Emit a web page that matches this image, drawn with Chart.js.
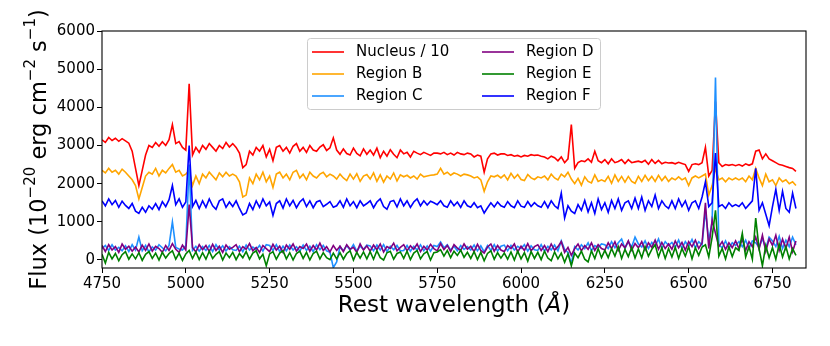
<!DOCTYPE html>
<html>
<head>
<meta charset="utf-8">
<script src="https://cdn.jsdelivr.net/npm/chart.js@4.4.1/dist/chart.umd.min.js"></script>
<style>
  body { margin: 0; background: #fff; }
  canvas { display: block; }
</style>
</head>
<body>
<canvas id="spec" width="830" height="346"></canvas>
<script>
// rest wavelength grid (Angstrom)
var wavelength = [
  4750, 4760, 4770, 4780, 4790, 4800, 4810, 4820, 4830, 4840,
  4850, 4860, 4870, 4880, 4890, 4900, 4910, 4920, 4930, 4940,
  4950, 4960, 4970, 4980, 4990, 5000, 5010, 5020, 5030, 5040,
  5050, 5060, 5070, 5080, 5090, 5100, 5110, 5120, 5130, 5140,
  5150, 5160, 5170, 5180, 5190, 5200, 5210, 5220, 5230, 5240,
  5250, 5260, 5270, 5280, 5290, 5300, 5310, 5320, 5330, 5340,
  5350, 5360, 5370, 5380, 5390, 5400, 5410, 5420, 5430, 5440,
  5450, 5460, 5470, 5480, 5490, 5500, 5510, 5520, 5530, 5540,
  5550, 5560, 5570, 5580, 5590, 5600, 5610, 5620, 5630, 5640,
  5650, 5660, 5670, 5680, 5690, 5700, 5710, 5720, 5730, 5740,
  5750, 5760, 5770, 5780, 5790, 5800, 5810, 5820, 5830, 5840,
  5850, 5860, 5870, 5880, 5890, 5900, 5910, 5920, 5930, 5940,
  5950, 5960, 5970, 5980, 5990, 6000, 6010, 6020, 6030, 6040,
  6050, 6060, 6070, 6080, 6090, 6100, 6110, 6120, 6130, 6140,
  6150, 6160, 6170, 6180, 6190, 6200, 6210, 6220, 6230, 6240,
  6250, 6260, 6270, 6280, 6290, 6300, 6310, 6320, 6330, 6340,
  6350, 6360, 6370, 6380, 6390, 6400, 6410, 6420, 6430, 6440,
  6450, 6460, 6470, 6480, 6490, 6500, 6510, 6520, 6530, 6540,
  6550, 6560, 6570, 6580, 6590, 6600, 6610, 6620, 6630, 6640,
  6650, 6660, 6670, 6680, 6690, 6700, 6710, 6720, 6730, 6740,
  6750, 6760, 6770, 6780, 6790, 6800, 6810, 6820
];

var nucleus = [
  3150, 3080, 3210, 3130, 3190, 3110, 3180, 3120, 3060, 2850,
  2400, 1950, 2350, 2750, 3000, 2950, 3080, 2980, 3100, 3000,
  3150, 3550, 3050, 3100, 2950, 2880, 4620, 2750, 2950, 2820,
  3000, 2900, 3050, 2950, 2850, 3000, 2920, 3080, 2960, 3050,
  2950, 2800, 2420, 2500, 2850, 2750, 2950, 2850, 3000, 2700,
  2900, 2600, 2950, 3000, 2850, 2950, 2800, 2980, 3050, 2850,
  2950, 2820, 3000, 2880, 2850, 2960, 3020, 2870, 2940, 3200,
  2880, 2770, 2910, 2790, 2750, 2930, 2790, 2730, 2910, 2770,
  2880, 2750, 2930, 2680, 2850, 2720, 2890, 2770, 2680, 2880,
  2780, 2820, 2700, 2850, 2800, 2760, 2820, 2780, 2740, 2800,
  2800, 2780, 2820, 2760, 2800, 2750, 2820, 2780, 2760, 2800,
  2780, 2700, 2750, 2720, 2300, 2650, 2780, 2800, 2750, 2780,
  2780, 2740, 2760, 2720, 2740, 2700, 2740, 2720, 2760, 2740,
  2750, 2720, 2700, 2650, 2720, 2680, 2600, 2700, 2550, 2650,
  3550, 2400, 2550, 2600, 2580, 2650, 2560, 2850, 2600, 2550,
  2630, 2520, 2650, 2550, 2580, 2630, 2530, 2630, 2550, 2570,
  2590, 2560, 2610, 2510, 2630, 2530, 2610, 2520, 2560, 2540,
  2550, 2520, 2560, 2530, 2500, 2320, 2500, 2520, 2500, 2550,
  2950, 2200, 2350, 4150, 2550, 2450, 2500, 2480, 2500, 2470,
  2500, 2460, 2520, 2480, 2520, 2850, 2880, 2650, 2780, 2650,
  2600, 2550, 2500, 2480, 2450, 2420, 2400, 2320
];

var regionB = [
  2350, 2280, 2400, 2300, 2350, 2250, 2380, 2300, 2200, 2100,
  1950, 1600, 1900, 2200, 2300, 2250, 2400, 2200, 2350, 2280,
  2400, 2500, 2300, 2350, 2200, 2250, 2350, 1950, 2200, 2000,
  2250, 2150, 2300, 2200, 2100, 2280, 2180, 2300, 2200, 2250,
  2200, 2050, 1650, 1700, 2150, 2000, 2250, 2100, 2300, 2050,
  2200, 1900, 2250, 2300, 2150, 2250, 2100, 2300, 2350, 2150,
  2250, 2100, 2300, 2200, 2150, 2250, 2300, 2180, 2250, 2200,
  2120, 2250, 2150, 2080, 2250, 2120, 2260, 2060, 2200, 2240,
  2120, 2280, 2060, 2230, 2040, 2200, 2120, 2280, 2070, 2230,
  2180, 2220, 2150, 2200, 2120, 2250, 2180, 2200, 2220, 2230,
  2250, 2400, 2250, 2300, 2220, 2280, 2250, 2200, 2250, 2230,
  2200, 2150, 2180, 2100, 1800, 2050, 2200, 2180, 2220, 2150,
  2230, 2100, 2270, 2140, 2240, 2110, 2080, 2240, 2150, 2110,
  2180, 2150, 2200, 2100, 2250, 2150, 2100, 2250, 2180, 2300,
  2120, 2000, 2140, 1960, 2180, 2060, 2020, 2230, 2060, 2100,
  2060, 2190, 2010, 2230, 2060, 2190, 2040, 2190, 2060, 2010,
  2190, 2060, 2220, 2080, 2190, 2060, 2220, 2080, 2190, 2060,
  2150, 2100, 2180, 2100, 2150, 1950, 2150, 2200, 2150, 2200,
  2250, 1700, 1950, 2400, 2100, 2150, 2050, 2150, 2100, 2150,
  2100, 2150, 2050, 2200, 2100, 2400, 2150, 1950, 2250, 2050,
  2100, 1950, 2150, 2050, 2100, 2000, 2050, 1950
];

var regionC = [
  300, 380, 250, 400, 260, 330, 240, 370, 220, 400,
  260, 600, 240, 380, 210, 340, 260, 400, 320, 240,
  380, 1000, 330, 290, 260, 380, 2500, 250, 360, 230,
  350, 250, 380, 220, 400, 260, 370, 240, 350, 270,
  250, 360, 220, 390, 260, 340, 270, 380, 230, 400,
  380, 250, 400, 220, 360, 240, 390, 260, 350, 230,
  390, 250, 360, 220, 400, 270, 380, 240, 200, -200,
  -50, 350, 240, 380, 260, 400, 230, 360, 280, 390,
  370, 240, 390, 260, 400, 220, 360, 270, 380, 240,
  250, 380, 230, 360, 260, 400, 240, 370, 230, 380,
  350, 470, 320, 400, 260, 360, 240, 380, 280, 350,
  260, 390, 240, 370, 210, 380, 250, 400, 230, 360,
  390, 240, 380, 260, 360, 300, 400, 230, 370, 270,
  250, 400, 230, 360, 260, 390, 240, 500, 280, 200,
  -100, 350, 260, 400, 300, 450, 240, 380, 330, 420,
  400, 300, 480, 320, 450, 550, 300, 480, 340, 600,
  420, 340, 500, 300, 460, 360, 550, 300, 480, 380,
  460, 330, 520, 300, 480, 360, 540, 320, 480, 400,
  1300, 500, 1000, 4780, 400, 320, 500, 300, 450, 380,
  480, 350, 520, 300, 500, 450, 330, 560, 300, 600,
  500, 350, 620, 300, 520, 350, 600, 400
];

var regionD = [
  380, 220, 400, 260, 350, 200, 420, 280, 360, 230,
  340, 210, 390, 250, 420, 230, 360, 300, 200, 380,
  250, 430, 280, 200, 390, 260, 1450, 330, 210, 400,
  270, 380, 220, 410, 250, 360, 200, 390, 280, 330,
  400, 220, 350, 280, 430, 240, 330, 200, 380, 300,
  220, 410, 260, 360, 200, 390, 280, 420, 230, 350,
  300, 420, 230, 380, 260, 440, 250, 350, 210, 380,
  250, 360, 220, 400, 280, 330, 200, 420, 260, 370,
  230, 390, 270, 420, 210, 350, 300, 440, 240, 330,
  400, 240, 370, 280, 420, 220, 360, 260, 410, 300,
  240, 430, 270, 380, 220, 400, 310, 250, 420, 280,
  360, 220, 410, 250, 180, 340, 420, 230, 380, 260,
  220, 380, 300, 420, 210, 360, 250, 430, 240, 350,
  400, 250, 380, 220, 420, 260, 350, 480, 200, 330,
  120, 300, 420, 240, 380, 280, 450, 250, 400, 300,
  260, 450, 300, 480, 250, 420, 320, 500, 260, 430,
  320, 480, 260, 450, 330, 520, 280, 460, 300, 420,
  280, 500, 320, 460, 260, 480, 350, 520, 300, 450,
  1500, 300, 1050, 700, 350, 480, 280, 450, 320, 500,
  300, 550, 250, 480, 350, 600, 280, 650, 220, 550,
  380, 650, 250, 550, 300, 600, 220, 500
];

var regionE = [
  150, -80, 200, 30, 170, -20, 140, 220, 20, 160,
  30, 190, -10, 150, 220, 40, 180, 0, 200, 50,
  170, 240, 20, 180, -10, 160, 250, 40, 210, 10,
  190, 20, 230, 40, 150, 220, 0, 180, 60, 200,
  10, 170, 60, 220, 20, 180, 240, 30, 150, -150,
  160, 220, 20, 180, 240, 30, 190, 0, 170, 230,
  40, 200, 0, 170, 230, 30, 190, 60, 10, 180,
  30, 190, 20, 170, 240, 0, 200, 50, 210, 30,
  220, 20, 240, 60, 0, 190, 230, 20, 170, 210,
  40, 230, 10, 180, 250, 30, 160, 220, 0, 190,
  210, 270, 100, 250, 60, 230, 120, 260, 70, 200,
  40, 220, 10, 200, -20, 170, 240, 20, 190, 50,
  180, 20, 210, 0, 230, 30, 190, -30, 220, 40,
  200, 10, 230, 50, -20, 210, 30, 180, -60, 160,
  -150, 180, 60, 230, 20, -50, 240, 40, 300, 60,
  250, 60, 300, 100, 350, 40, 280, 90, 330, 50,
  290, 60, 350, 100, 280, 400, 80, 320, 40, 300,
  80, 330, 40, 300, 100, 350, 30, 320, 120, 340,
  400, 80, 600, 1300, 100, 300, 30, 350, 90, 320,
  250, 700, 80, 350, 20, 1100, 300, -150, 380, 60,
  320, 20, 420, 80, 350, 30, 300, 120
];

var regionF = [
  1550, 1420, 1600, 1450, 1560, 1380, 1540, 1430, 1350, 1480,
  1280, 1220, 1380, 1250, 1420, 1330, 1480, 1320, 1530, 1400,
  1580, 1950, 1450, 1600, 1380, 1520, 3000, 1400, 1560, 1350,
  1550, 1380, 1600, 1420, 1330, 1550, 1600, 1380, 1520, 1400,
  1550, 1350, 1180, 1230, 1480, 1320, 1550, 1380, 1600, 1420,
  1520, 1170, 1480, 1550, 1360, 1600, 1420, 1560, 1370, 1520,
  1600, 1400, 1550, 1370, 1520, 1560, 1400, 1460, 1530, 1380,
  1420, 1550, 1380, 1600, 1420, 1530, 1370, 1550, 1420, 1480,
  1550, 1370, 1520, 1600, 1400, 1330, 1530, 1560, 1390, 1600,
  1420, 1550, 1380, 1520, 1600, 1420, 1550, 1440, 1540, 1500,
  1450, 1550, 1420, 1380, 1550, 1420, 1520, 1380, 1550, 1420,
  1380, 1500, 1370, 1420, 1230, 1370, 1500, 1390, 1520, 1420,
  1380, 1530, 1420, 1370, 1550, 1410, 1380, 1530, 1400, 1500,
  1420, 1380, 1530, 1370, 1550, 1420, 1350, 1750, 1100, 1420,
  1280, 1220, 1450, 1300, 1560, 1260, 1500, 1220, 1600, 1320,
  1500, 1250, 1560, 1350, 1600, 1300, 1500, 1550, 1350, 1620,
  1350, 1650, 1300, 1550, 1400, 1700, 1350, 1550, 1420, 1350,
  1550, 1350, 1600, 1400, 1550, 1300, 1500, 1550, 1350, 1650,
  2050, 1400, 1500, 2800, 1400, 1450, 1350, 1500, 1400, 1450,
  1400, 1500, 1350, 1450, 1550, 2400, 1300, 1500, 1200, 900,
  1400, 1850, 1300, 1800, 1350, 1250, 1750, 1350
];

var labels = ['Nucleus / 10', 'Region B', 'Region C', 'Region D', 'Region E', 'Region F'];
var colors = ['#ff0000', '#ffa500', '#1e90ff', '#800080', '#008000', '#0000ff'];
var series = [nucleus, regionB, regionC, regionD, regionE, regionF];

var xTicks = [4750, 5000, 5250, 5500, 5750, 6000, 6250, 6500, 6750];
var yTicks = [0, 1000, 2000, 3000, 4000, 5000, 6000];

var FONT = "'DejaVu Sans', sans-serif";

function toPoints(ys) {
    return wavelength.map(function(w, i) { return {x: w, y: ys[i]}; });
}

var datasets = series.map(function(ys, i) {
    return {
        label: labels[i],
        data: toPoints(ys),
        borderColor: colors[i],
        backgroundColor: colors[i],
        borderWidth: 1.6,
        pointRadius: 0,
        tension: 0,
        fill: false,
        order: series.length - i   // later series drawn on top, like matplotlib
    };
});

function drawRuns(ctx, runs, cx, cy) {
    var total = 0;
    runs.forEach(function(r) { ctx.font = r.f; r.w = ctx.measureText(r.t).width; total += r.w; });
    var x = cx - total / 2;
    ctx.textAlign = 'left';
    ctx.textBaseline = 'middle';
    runs.forEach(function(r) {
        ctx.font = r.f;
        ctx.fillText(r.t, x, cy - (r.up || 0));
        x += r.w;
    });
}

// frame, legend and the axis labels (superscripts) drawn by hand
var decor = {
    id: 'decor',
    afterDraw: function(chart) {
        var ctx = chart.ctx;
        var a = chart.chartArea;
        ctx.save();

        // axes frame
        ctx.strokeStyle = '#000';
        ctx.lineWidth = 1.1;
        ctx.strokeRect(a.left, a.top, a.right - a.left, a.bottom - a.top);

        // legend box
        var lx = a.left + 205, ly = a.top + 7, lw = 293, lh = 71;
        ctx.fillStyle = 'rgba(255,255,255,0.8)';
        ctx.strokeStyle = '#cccccc';
        ctx.lineWidth = 1;
        ctx.beginPath();
        ctx.roundRect(lx + 0.5, ly + 0.5, lw, lh, 3);
        ctx.fill();
        ctx.stroke();

        ctx.font = '15px ' + FONT;
        ctx.textBaseline = 'middle';
        ctx.textAlign = 'left';
        for (var i = 0; i < labels.length; i++) {
            var col = Math.floor(i / 3), row = i % 3;
            var hx = lx + 5 + col * 170;
            var hy = ly + 14 + row * 22;
            ctx.strokeStyle = colors[i];
            ctx.lineWidth = 1.6;
            ctx.beginPath();
            ctx.moveTo(hx, hy);
            ctx.lineTo(hx + 32, hy);
            ctx.stroke();
            ctx.fillStyle = '#000';
            ctx.fillText(labels[i], hx + 44, hy);
        }

        // x axis title
        ctx.fillStyle = '#000';
        var runsX = [
            {t: 'Rest wavelength (', f: '23px ' + FONT},
            {t: '\u00c5', f: 'italic 23px ' + FONT},
            {t: ')', f: '23px ' + FONT}
        ];
        drawRuns(ctx, runsX, (a.left + a.right) / 2, 306);

        // y axis title, rotated
        ctx.translate(40, (a.top + a.bottom) / 2);
        ctx.rotate(-Math.PI / 2);
        var runsY = [
            {t: 'Flux (10', f: '22.5px ' + FONT},
            {t: '\u221220', f: '15px ' + FONT, up: 9},
            {t: ' erg cm', f: '22.5px ' + FONT},
            {t: '\u22122', f: '15px ' + FONT, up: 9},
            {t: ' s', f: '22.5px ' + FONT},
            {t: '\u22121', f: '15px ' + FONT, up: 9},
            {t: ')', f: '22.5px ' + FONT}
        ];
        drawRuns(ctx, runsY, 0, 0);
        ctx.restore();
    }
};

var ctx = document.getElementById('spec').getContext('2d');

var config = {
    type: 'line',
    data: { datasets: datasets },
    options: {
        responsive: false,
        animation: false,
        layout: { padding: { left: 0, right: 24, top: 31, bottom: 0 } },
        plugins: { legend: { display: false }, tooltip: { enabled: false } },
        scales: {
            x: {
                type: 'linear',
                min: 4750,
                max: 6850,
                afterBuildTicks: function(s) { s.ticks = xTicks.map(function(v) { return {value: v}; }); },
                afterFit: function(s) { s.height = 78; },
                ticks: {
                    color: '#000', font: { family: FONT, size: 15 }, padding: 2, maxRotation: 0,
                    callback: function(v) { return String(v); }
                },
                grid: { drawOnChartArea: false, color: '#000', tickLength: 5, lineWidth: 1 },
                border: { display: false }
            },
            y: {
                min: -210,
                max: 6000,
                afterBuildTicks: function(s) { s.ticks = yTicks.map(function(v) { return {value: v}; }); },
                afterFit: function(s) { s.width = 102; },
                ticks: {
                    color: '#000', font: { family: FONT, size: 15 }, padding: 2,
                    callback: function(v) { return String(v); }
                },
                grid: { drawOnChartArea: false, color: '#000', tickLength: 5, lineWidth: 1 },
                border: { display: false }
            }
        }
    },
    plugins: [decor]
};

var chart = new Chart(ctx, config);
</script>
</body>
</html>
